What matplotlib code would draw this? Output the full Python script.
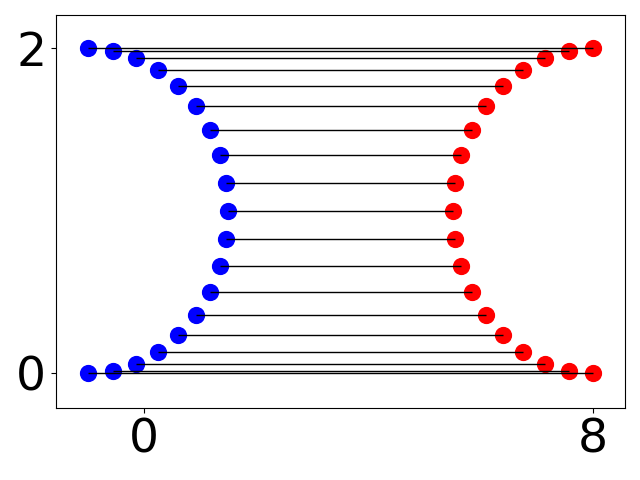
import matplotlib
matplotlib.use("Agg")
import matplotlib.pyplot as plt

y_vals = [0.0, 0.015, 0.06, 0.134, 0.234, 0.357, 0.5, 0.658, 0.826, 1.0,
          1.174, 1.342, 1.5, 1.643, 1.766, 1.866, 1.94, 1.985, 2.0]
x_blue = [-1.0, -0.566, -0.145, 0.25, 0.607, 0.915, 1.165, 1.349, 1.462, 1.5,
          1.462, 1.349, 1.165, 0.915, 0.607, 0.25, -0.145, -0.566, -1.0]
x_red = [8.0, 7.566, 7.145, 6.75, 6.393, 6.085, 5.835, 5.651, 5.538, 5.5,
         5.538, 5.651, 5.835, 6.085, 6.393, 6.75, 7.145, 7.566, 8.0]
x_ticks = [0, 8]
y_ticks = [0, 2]

fig = plt.figure(figsize=(6.4, 4.8), dpi=100)
ax = fig.add_axes([0.0875, 0.15, 0.8895, 0.818])
ax.scatter(x_blue, y_vals, s=130, color="blue", zorder=2)
ax.scatter(x_red, y_vals, s=130, color="red", zorder=2)
ax.hlines(y_vals, x_blue, x_red, colors="black", linewidth=1, zorder=3)
ax.set_xlim(-1.573, 8.57)
ax.set_ylim(-0.2135, 2.203)
ax.set_xticks(x_ticks)
ax.set_yticks(y_ticks)
ax.tick_params(labelsize=34)
fig.savefig("out.png", dpi=100)
